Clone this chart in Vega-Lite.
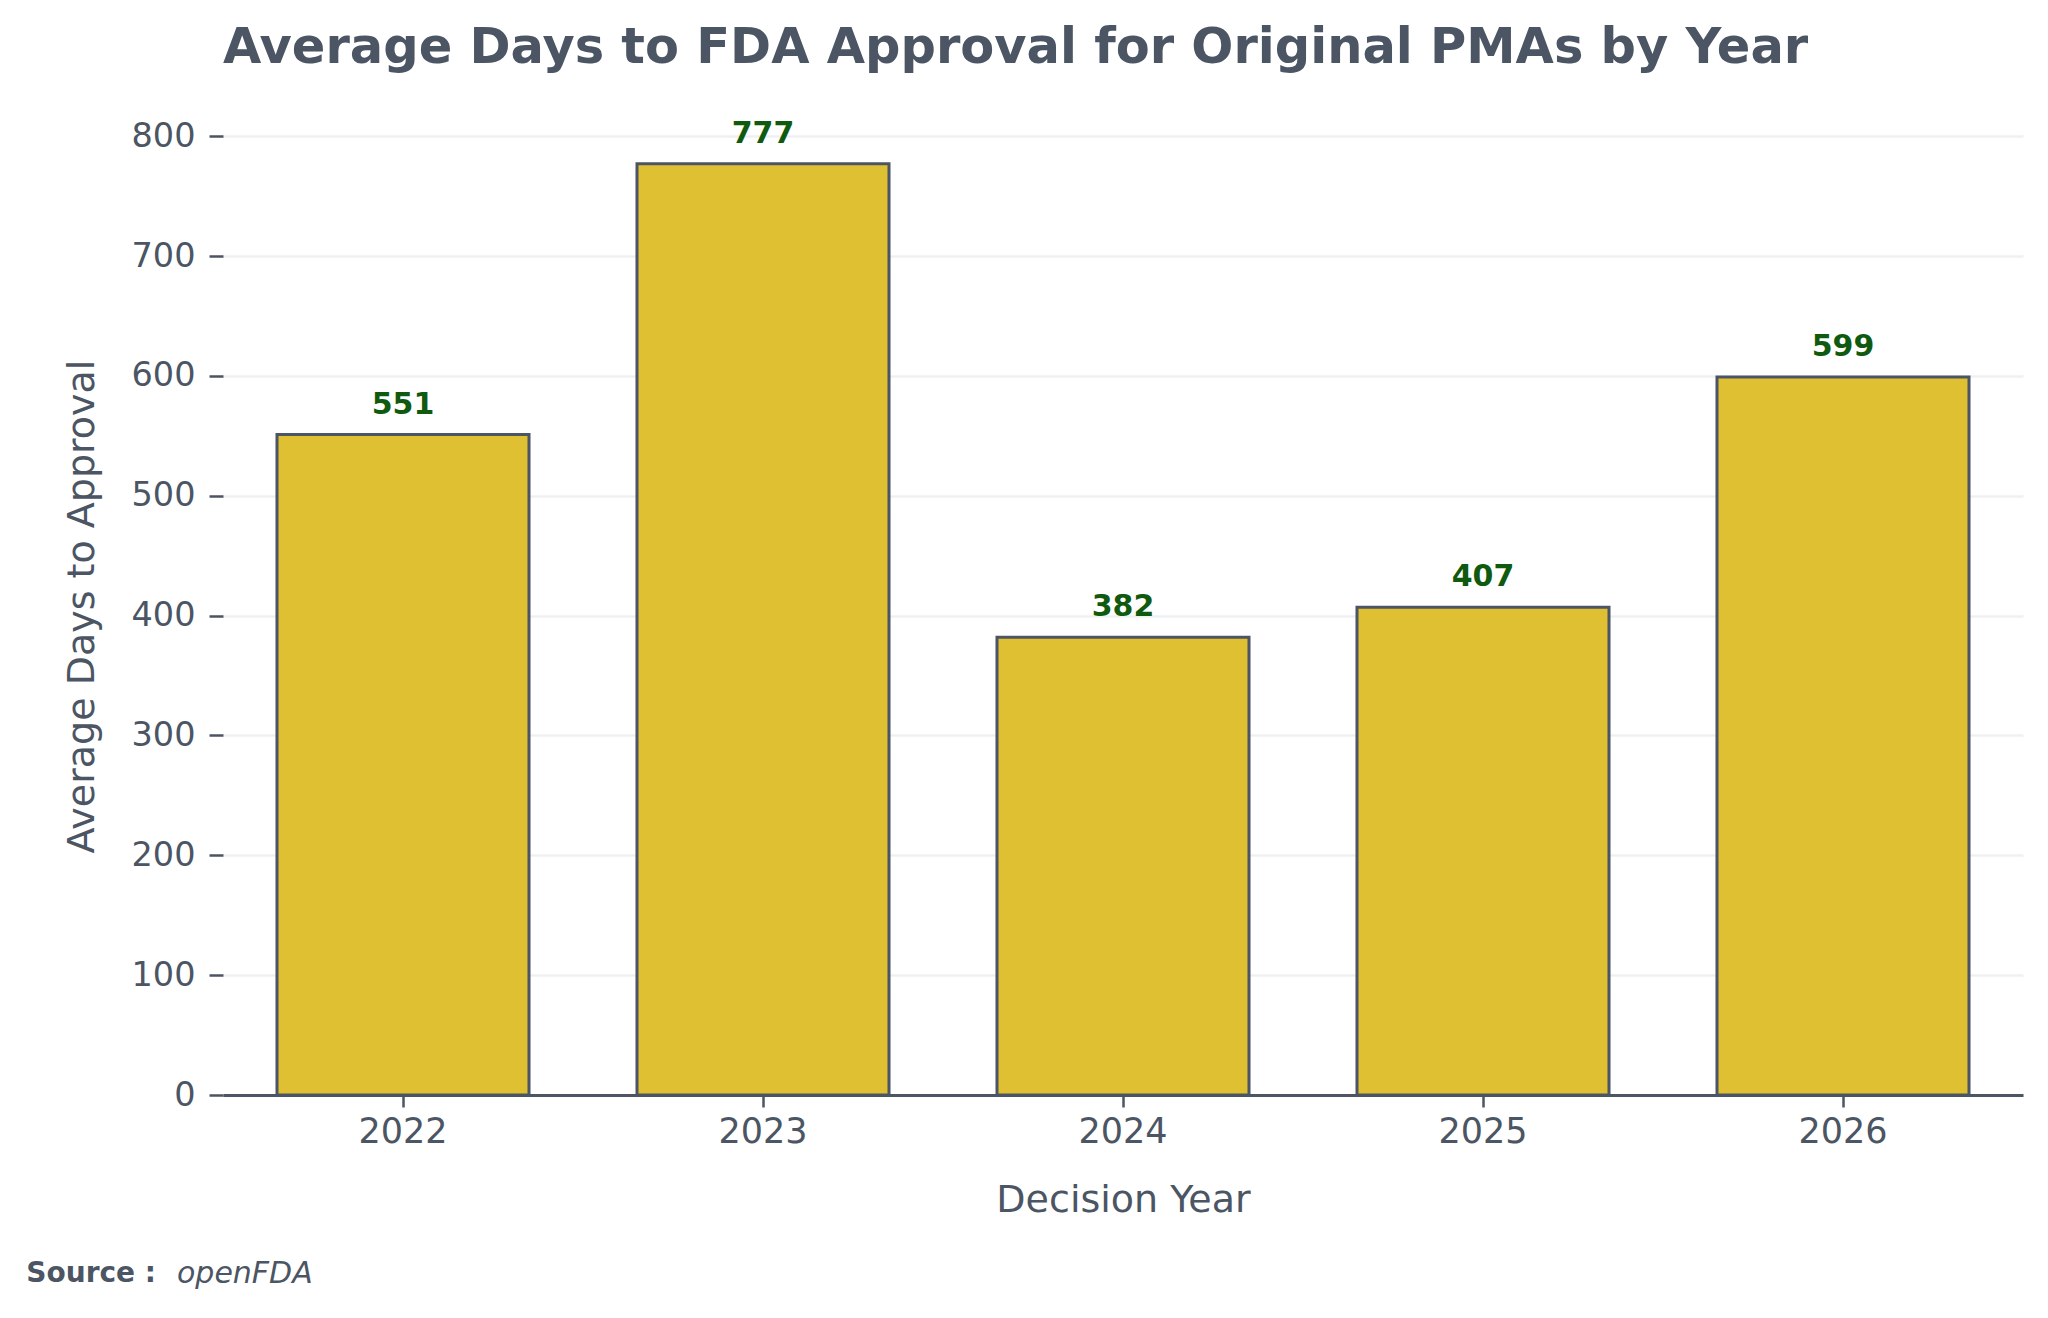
{
  "$schema": "https://vega.github.io/schema/vega-lite/v6.json",
  "background": "white",
  "padding": {"left": 26, "top": 22, "right": 20, "bottom": 20},
  "title": {
    "text": "Source :",
    "subtitle": "openFDA",
    "orient": "bottom",
    "anchor": "start",
    "frame": "group",
    "offset": 41,
    "dx": -46,
    "fontSize": 28,
    "fontWeight": "bold",
    "color": "#4B5563",
    "subtitleFontSize": 30,
    "subtitleFontStyle": "italic",
    "subtitleFontWeight": "normal",
    "subtitleColor": "#4B5563",
    "subtitlePadding": -29,
    "encoding": {"align": {"value": "right"}, "dx": {"value": -67}}
  },
  "vconcat": [
    {
      "width": 1800,
      "height": 978,
      "title": {
        "text": "Average Days to FDA Approval for Original PMAs by Year",
        "anchor": "start",
        "frame": "group",
        "fontSize": 49.5,
        "fontWeight": "bold",
        "color": "#4B5563",
        "offset": 44
      },
      "data": {
        "values": [
          {"year": "2022", "days": 551},
          {"year": "2023", "days": 777},
          {"year": "2024", "days": 382},
          {"year": "2025", "days": 407},
          {"year": "2026", "days": 599}
        ]
      },
      "encoding": {
        "x": {
          "field": "year",
          "type": "ordinal",
          "title": "Decision Year",
          "scale": {"paddingInner": 0.3, "paddingOuter": 0.15},
          "axis": {
            "labelAngle": 0,
            "labelFontSize": 35,
            "labelColor": "#4B5563",
            "labelPadding": 7,
            "domain": true,
            "domainColor": "#4B5563",
            "domainWidth": 3,
            "ticks": true,
            "tickColor": "#4B5563",
            "tickSize": 12,
            "tickWidth": 2.5,
            "titleFontSize": 38,
            "titleFontWeight": "normal",
            "titleColor": "#4B5563",
            "titlePadding": 32
          }
        },
        "y": {
          "field": "days",
          "type": "quantitative",
          "title": "Average Days to Approval",
          "scale": {"domain": [0, 816], "nice": false},
          "axis": {
            "values": [0, 100, 200, 300, 400, 500, 600, 700, 800],
            "grid": true,
            "gridColor": "#EFF0F2",
            "gridWidth": 2.5,
            "domain": false,
            "ticks": true,
            "tickColor": "#4B5563",
            "tickSize": 14,
            "tickWidth": 2.5,
            "labelFontSize": 33.5,
            "labelColor": "#4B5563",
            "labelPadding": 14,
            "titleFontSize": 38,
            "titleFontWeight": "normal",
            "titleColor": "#4B5563",
            "titlePadding": 30
          }
        }
      },
      "layer": [
        {
          "mark": {"type": "bar", "fill": "#DFC032", "stroke": "#4B5563", "strokeWidth": 3}
        },
        {
          "mark": {
            "type": "text",
            "fontSize": 30,
            "fontWeight": "bold",
            "color": "#0F5A0F",
            "baseline": "alphabetic",
            "dy": -21
          },
          "encoding": {"text": {"field": "days", "type": "quantitative"}}
        }
      ]
    }
  ],
  "config": {
    "font": "DejaVu Sans",
    "view": {"stroke": null}
  }
}
